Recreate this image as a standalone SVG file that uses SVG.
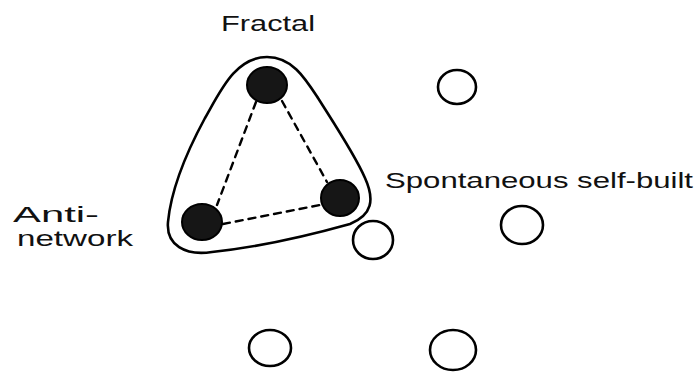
<svg xmlns="http://www.w3.org/2000/svg" width="696" height="373" viewBox="0 0 696 373">
<style>
.lbl{font-family:"Liberation Sans","DejaVu Sans",sans-serif;font-size:22px;fill:#111}
.solid{fill:#161616;stroke:#000;stroke-width:2}
.open{fill:none;stroke:#000;stroke-width:2.6}
.dash{fill:none;stroke:#000;stroke-width:2.4;stroke-dasharray:7 6;stroke-linecap:round}
.hull{fill:none;stroke:#000;stroke-width:2.6}
</style>
<rect width="696" height="373" fill="#fff"/>
<g id="cluster">
<path class="hull" d="M 267,57 C 292,57 305,78 318,98 C 335,125 355,155 365,178 C 375,200 372,215 350,224 C 300,238 250,248 212,252 C 185,256 166,245 168,222 C 171,190 185,155 205,118 C 220,92 235,57 267,57 Z"/>
</g>
<g id="connectors">
<line class="dash" x1="256" y1="102" x2="217" y2="205"/>
<line class="dash" x1="282" y1="101" x2="327" y2="182"/>
<line class="dash" x1="223" y1="224" x2="320" y2="205"/>
</g>
<g id="fractal">
<ellipse class="solid" cx="267" cy="85" rx="20" ry="18"/>
<text class="lbl" x="221" y="31" textLength="94" lengthAdjust="spacingAndGlyphs">Fractal</text>
</g>
<g id="spontaneous">
<ellipse class="solid" cx="340" cy="198" rx="19" ry="18"/>
<text class="lbl" x="385" y="188" textLength="308" lengthAdjust="spacingAndGlyphs">Spontaneous self-built</text>
</g>
<g id="antinetwork">
<ellipse class="solid" cx="202" cy="222" rx="20" ry="18"/>
<text class="lbl" x="13" y="222" textLength="86" lengthAdjust="spacingAndGlyphs">Anti-</text>
<text class="lbl" x="17" y="246" textLength="116" lengthAdjust="spacingAndGlyphs">network</text>
</g>
<g id="c1"><ellipse class="open" cx="457" cy="87" rx="19" ry="17"/></g>
<g id="c2"><ellipse class="open" cx="522" cy="225" rx="21" ry="19"/></g>
<g id="c3"><ellipse class="open" cx="373" cy="240" rx="20" ry="19"/></g>
<g id="c4"><ellipse class="open" cx="270" cy="348" rx="21" ry="18"/></g>
<g id="c5"><ellipse class="open" cx="453" cy="350" rx="23" ry="20"/></g>
</svg>
